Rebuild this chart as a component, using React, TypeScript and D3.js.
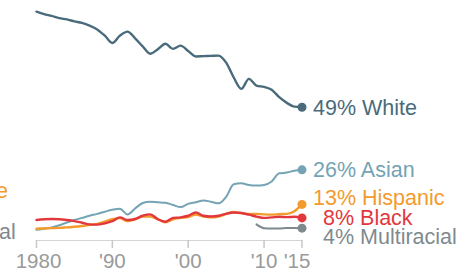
import React, { useEffect, useRef } from "react";
import * as d3 from "d3";

// years 1980..2015
const years = d3.range(1980, 2016);

const white = [
  84.4, 83.5, 82.8, 82.0, 81.5, 80.8, 80.2, 79.2, 77.8, 75.5, 72.8, 75.5, 77.0,
  74.5, 71.5, 68.8, 70.5, 72.5, 70.6, 71.8, 69.8, 67.8, 67.9, 68.0, 68.1, 65.5,
  60.0, 55.8, 59.5, 57.0, 56.5, 55.5, 52.7, 50.6, 49.2, 49.0,
];
const asian = [
  3.6, 4.0, 4.5, 5.3, 6.3, 7.2, 8.0, 8.8, 9.5, 10.3, 11.0, 11.4, 9.3, 11.5, 13.5,
  14.0, 13.8, 13.6, 12.8, 12.0, 13.2, 13.8, 14.4, 14.0, 13.4, 15.8, 20.5, 20.8,
  20.2, 20.0, 20.2, 21.5, 24.5, 24.8, 25.5, 25.8,
];
const hispanic = [
  4.0, 4.1, 4.2, 4.3, 4.5, 4.7, 5.0, 5.4, 5.8, 6.6, 7.5, 7.9, 6.8, 7.5, 8.5, 8.5,
  7.5, 6.4, 7.5, 8.0, 8.3, 9.2, 8.5, 8.2, 8.5, 9.5, 10.2, 9.8, 9.5, 9.5, 9.3, 9.2,
  9.4, 9.5, 10.5, 13.0,
];
const black = [
  7.2, 7.5, 7.6, 7.5, 7.2, 6.8, 6.2, 5.6, 5.5, 6.0, 6.8, 8.2, 7.2, 7.6, 8.8, 9.3,
  7.5, 6.6, 8.0, 8.2, 8.8, 10.0, 8.8, 8.5, 8.8, 9.5, 10.0, 9.8, 9.2, 8.5, 8.0, 8.2,
  8.4, 8.3, 8.4, 8.0,
];
const multiYears = [2009, 2010, 2011, 2012, 2013, 2014, 2015];
const multiracial = [5.6, 4.2, 4.1, 4.1, 4.3, 4.3, 4.2];

const tickYears = [1980, 1990, 2000, 2010, 2015];
const tickLabels = ["1980", "'90", "'00", "'10", "'15"];

const series = [
  { name: "White", label: "49% White", years, values: white, color: "#4a6b7b", width: 2.4, dx: 0 },
  { name: "Asian", label: "26% Asian", years, values: asian, color: "#74a3b3", width: 2, dx: 0 },
  { name: "Multiracial", label: "4% Multiracial", years: multiYears, values: multiracial, color: "#7f8a8f", width: 2, dx: 10 },
  { name: "Hispanic", label: "13% Hispanic", years, values: hispanic, color: "#f39a2c", width: 2.4, dx: 0 },
  { name: "Black", label: "8% Black", years, values: black, color: "#e2383d", width: 2.4, dx: 10 },
];

const App = () => {
  const svgRef = useRef<SVGSVGElement>(null);

  useEffect(() => {
    const w = 470;
    const h = 272;
    const svg = d3.select(svgRef.current).attr("width", w).attr("height", h);
    svg.selectAll("*").remove();

    const x = d3.scaleLinear().domain([1980, 2015]).range([36.5, 302]);
    const y = d3.scaleLinear().domain([0, 100]).range([239.5, -30.5]);
    const font = "'Liberation Sans', Arial, Helvetica, sans-serif";

    // baseline and ticks
    svg
      .append("line")
      .attr("x1", x(1980))
      .attr("x2", x(2015))
      .attr("y1", 240.5)
      .attr("y2", 240.5)
      .attr("stroke", "#d4d4d4")
      .attr("stroke-width", 1);

    svg
      .selectAll(".tick")
      .data(tickYears)
      .join("line")
      .attr("x1", (d) => x(d))
      .attr("x2", (d) => x(d))
      .attr("y1", 240)
      .attr("y2", 248)
      .attr("stroke", "#c8c8c8")
      .attr("stroke-width", 1.5);

    svg
      .selectAll(".ticklabel")
      .data(tickYears)
      .join("text")
      .attr("x", (d, i) => x(d) + (i === tickYears.length - 1 ? -5 : i === 0 ? 2 : 0))
      .attr("y", 267.5)
      .attr("text-anchor", "middle")
      .attr("font-family", font)
      .attr("font-size", 20.5)
      .attr("fill", "#9a9a9a")
      .text((d, i) => tickLabels[i]);

    // lines
    const line = d3
      .line<[number, number]>()
      .x((d) => x(d[0]))
      .y((d) => y(d[1]))
      .curve(d3.curveMonotoneX);

    series.forEach((s) => {
      const pts = s.years.map((yr, i) => [yr, s.values[i]] as [number, number]);
      svg
        .append("path")
        .attr("d", line(pts))
        .attr("fill", "none")
        .attr("stroke", s.color)
        .attr("stroke-width", s.width)
        .attr("stroke-linejoin", "round")
        .attr("stroke-linecap", "round");
    });

    // end dots
    series.forEach((s) => {
      const last = s.values[s.values.length - 1];
      svg
        .append("circle")
        .attr("cx", x(2015))
        .attr("cy", y(last))
        .attr("r", 4.5)
        .attr("fill", s.color);
    });

    // labels
    const labelY: Record<string, number> = {
      White: 107,
      Asian: 169,
      Hispanic: 197,
      Black: 217,
      Multiracial: 236,
    };
    series.forEach((s) => {
      svg
        .append("text")
        .attr("x", x(2015) + 11 + s.dx)
        .attr("y", labelY[s.name])
        .attr("dy", "0.36em")
        .attr("font-family", font)
        .attr("font-size", 21.5)
        .attr("fill", s.color)
        .text(s.label);
    });

    // clipped pieces of neighbouring panels
    svg
      .append("text")
      .attr("x", -4)
      .attr("y", 190)
      .attr("dy", "0.36em")
      .attr("font-family", font)
      .attr("font-size", 21.5)
      .attr("fill", "#f39a2c")
      .text("e");
    svg
      .append("text")
      .attr("x", -1)
      .attr("y", 231)
      .attr("dy", "0.36em")
      .attr("font-family", font)
      .attr("font-size", 21.5)
      .attr("fill", "#7f8a8f")
      .text("al");
  }, []);

  return (
    <div>
      <svg ref={svgRef} style={{ position: "absolute", left: 0, top: 0, background: "#fff" }}></svg>
    </div>
  );
};

export default App;
